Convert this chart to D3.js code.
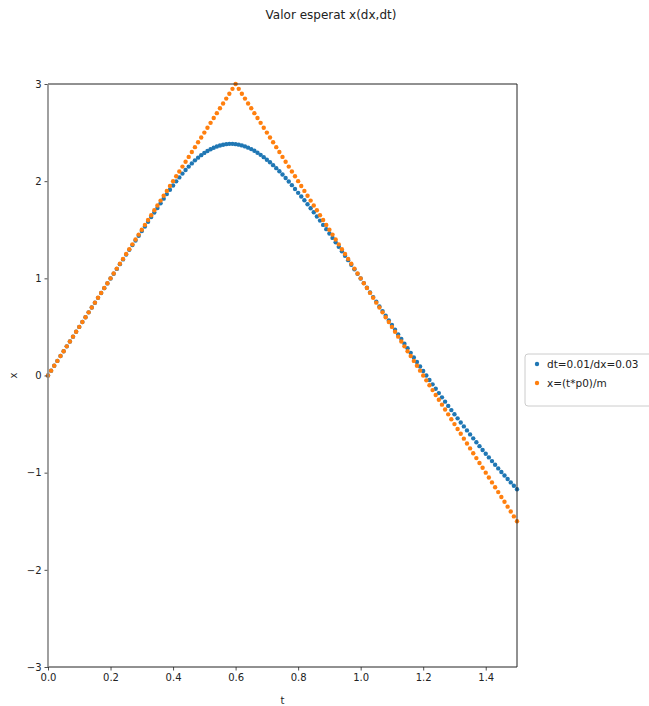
<!DOCTYPE html>
<html>
<head>
<meta charset="utf-8">
<script src="https://cdn.jsdelivr.net/npm/d3@7"></script>
<style>
  html, body { margin: 0; padding: 0; background: #fff; }
  svg { display: block; font-family: "DejaVu Sans", sans-serif; }
</style>
</head>
<body>
<svg id="chart" width="649" height="706"></svg>
<script>
// Sampling grid: t from 0 to 1.5 in steps of dt = 0.01
const tStart = 0;
const tStep = 0.01;
const nSamples = 151;

// Expected position <x> from the simulation (dt=0.01, dx=0.03)
const xSim = [
  0.000, 0.050, 0.100, 0.150, 0.200, 0.250, 0.300, 0.350, 0.400, 0.450,
  0.500, 0.550, 0.600, 0.650, 0.700, 0.749, 0.799, 0.849, 0.899, 0.948,
  0.998, 1.047, 1.097, 1.146, 1.195, 1.244, 1.293, 1.342, 1.390, 1.438,
  1.486, 1.534, 1.582, 1.630, 1.677, 1.724, 1.773, 1.820, 1.867, 1.912,
  1.955, 1.998, 2.039, 2.078, 2.115, 2.150, 2.183, 2.214, 2.242, 2.268,
  2.291, 2.311, 2.329, 2.344, 2.357, 2.367, 2.375, 2.381, 2.384, 2.384,
  2.381, 2.376, 2.368, 2.358, 2.345, 2.330, 2.313, 2.293, 2.271, 2.247,
  2.221, 2.194, 2.165, 2.134, 2.102, 2.068, 2.033, 1.997, 1.959, 1.920,
  1.880, 1.842, 1.803, 1.763, 1.722, 1.680, 1.637, 1.594, 1.550, 1.506,
  1.461, 1.416, 1.371, 1.325, 1.279, 1.233, 1.187, 1.140, 1.093, 1.046,
  0.999, 0.951, 0.903, 0.855, 0.807, 0.759, 0.711, 0.663, 0.615, 0.567,
  0.519, 0.471, 0.423, 0.375, 0.327, 0.280, 0.233, 0.186, 0.139, 0.092,
  0.046, 0.000, -0.046, -0.091, -0.136, -0.181, -0.225, -0.269, -0.313, -0.356,
  -0.399, -0.441, -0.483, -0.524, -0.565, -0.606, -0.647, -0.687, -0.727, -0.766,
  -0.805, -0.843, -0.881, -0.919, -0.956, -0.993, -1.029, -1.065, -1.100, -1.135,
  -1.170
];

// Classical trajectory x = (t*p0)/m, reflected at the wall
const xClassic = [
  0.00, 0.05, 0.10, 0.15, 0.20, 0.25, 0.30, 0.35, 0.40, 0.45,
  0.50, 0.55, 0.60, 0.65, 0.70, 0.75, 0.80, 0.85, 0.90, 0.95,
  1.00, 1.05, 1.10, 1.15, 1.20, 1.25, 1.30, 1.35, 1.40, 1.45,
  1.50, 1.55, 1.60, 1.65, 1.70, 1.75, 1.80, 1.85, 1.90, 1.95,
  2.00, 2.05, 2.10, 2.15, 2.20, 2.25, 2.30, 2.35, 2.40, 2.45,
  2.50, 2.55, 2.60, 2.65, 2.70, 2.75, 2.80, 2.85, 2.90, 2.95,
  3.00, 2.95, 2.90, 2.85, 2.80, 2.75, 2.70, 2.65, 2.60, 2.55,
  2.50, 2.45, 2.40, 2.35, 2.30, 2.25, 2.20, 2.15, 2.10, 2.05,
  2.00, 1.95, 1.90, 1.85, 1.80, 1.75, 1.70, 1.65, 1.60, 1.55,
  1.50, 1.45, 1.40, 1.35, 1.30, 1.25, 1.20, 1.15, 1.10, 1.05,
  1.00, 0.95, 0.90, 0.85, 0.80, 0.75, 0.70, 0.65, 0.60, 0.55,
  0.50, 0.45, 0.40, 0.35, 0.30, 0.25, 0.20, 0.15, 0.10, 0.05,
  0.00, -0.05, -0.10, -0.15, -0.20, -0.25, -0.30, -0.35, -0.40, -0.45,
  -0.50, -0.55, -0.60, -0.65, -0.70, -0.75, -0.80, -0.85, -0.90, -0.95,
  -1.00, -1.05, -1.10, -1.15, -1.20, -1.25, -1.30, -1.35, -1.40, -1.45,
  -1.50
];

const xTicks = [0.0, 0.2, 0.4, 0.6, 0.8, 1.0, 1.2, 1.4];
const yTicks = [-3, -2, -1, 0, 1, 2, 3];
const seriesNames = ["dt=0.01/dx=0.03", "x=(t*p0)/m"];
const seriesColors = ["#1f77b4", "#ff7f0e"];

const svg = d3.select("#chart");
const plot = { left: 48, right: 517, top: 84, bottom: 667 };

const x = d3.scaleLinear().domain([0, 1.5]).range([plot.left, plot.right]);
const y = d3.scaleLinear().domain([-3, 3]).range([plot.bottom, plot.top]);

const ts = d3.range(nSamples).map(i => +(tStart + i * tStep).toFixed(2));

// Title
svg.append("text")
  .attr("x", 331).attr("y", 19)
  .attr("text-anchor", "middle")
  .attr("font-size", 12)
  .attr("fill", "#222")
  .text("Valor esperat x(dx,dt)");

// Data points, clipped to the axes area
svg.append("defs").append("clipPath").attr("id", "plotclip")
  .append("rect")
  .attr("x", plot.left - 3).attr("y", plot.top - 3)
  .attr("width", plot.right - plot.left + 6)
  .attr("height", plot.bottom - plot.top + 6);

[xSim, xClassic].forEach((vals, k) => {
  svg.append("g").attr("clip-path", "url(#plotclip)")
    .selectAll("circle")
    .data(ts.map((t, i) => ({ t, v: vals[i] })))
    .join("circle")
    .attr("cx", d => x(d.t))
    .attr("cy", d => y(d.v))
    .attr("r", 2.2)
    .attr("fill", seriesColors[k]);
});

// Axes
const xAxis = svg.append("g")
  .attr("transform", `translate(0,${plot.bottom})`)
  .call(d3.axisBottom(x).tickValues(xTicks).tickFormat(d3.format(".1f")).tickSize(3.5).tickPadding(3));
const yAxis = svg.append("g")
  .attr("transform", `translate(${plot.left},0)`)
  .call(d3.axisLeft(y).tickValues(yTicks).tickFormat(d => d < 0 ? "\u2212" + Math.abs(d) : d).tickSize(3.5).tickPadding(3));

[xAxis, yAxis].forEach(g => {
  g.select(".domain").remove();
  g.selectAll(".tick line").attr("stroke", "#222").attr("stroke-width", 0.8);
  g.selectAll(".tick text")
    .attr("font-family", "DejaVu Sans, sans-serif")
    .attr("font-size", 10)
    .attr("fill", "#222");
});

// Frame
svg.append("line").attr("x1", plot.left).attr("x2", plot.right)
  .attr("y1", plot.top).attr("y2", plot.top).attr("stroke", "#222").attr("stroke-width", 1);
svg.append("line").attr("x1", plot.left).attr("x2", plot.right)
  .attr("y1", plot.bottom).attr("y2", plot.bottom).attr("stroke", "#222").attr("stroke-width", 1);
svg.append("line").attr("x1", plot.right).attr("x2", plot.right)
  .attr("y1", plot.top).attr("y2", plot.bottom).attr("stroke", "#222").attr("stroke-width", 1);
svg.append("line").attr("x1", plot.left).attr("x2", plot.left)
  .attr("y1", plot.top).attr("y2", plot.bottom).attr("stroke", "#888").attr("stroke-width", 1.6);

// Axis labels
svg.append("text")
  .attr("x", x(0.75)).attr("y", 704)
  .attr("text-anchor", "middle")
  .attr("font-size", 10).attr("fill", "#222")
  .text("t");
svg.append("text")
  .attr("transform", `translate(17,${y(0)}) rotate(-90)`)
  .attr("text-anchor", "middle")
  .attr("font-size", 10).attr("fill", "#222")
  .text("x");

// Legend
const legend = svg.append("g").attr("transform", "translate(525,354)");
legend.append("rect")
  .attr("x", 0).attr("y", 0)
  .attr("width", 140).attr("height", 52)
  .attr("rx", 3)
  .attr("fill", "#fff")
  .attr("stroke", "#ccc")
  .attr("stroke-width", 1);
seriesNames.forEach((name, i) => {
  const row = legend.append("g").attr("transform", `translate(0,${10 + i * 19})`);
  row.append("circle").attr("cx", 12).attr("cy", 0).attr("r", 2.2).attr("fill", seriesColors[i]);
  row.append("text")
    .attr("x", 22).attr("y", 0).attr("dy", "0.35em")
    .attr("font-size", 10.5).attr("fill", "#222")
    .text(name);
});
</script>
</body>
</html>
